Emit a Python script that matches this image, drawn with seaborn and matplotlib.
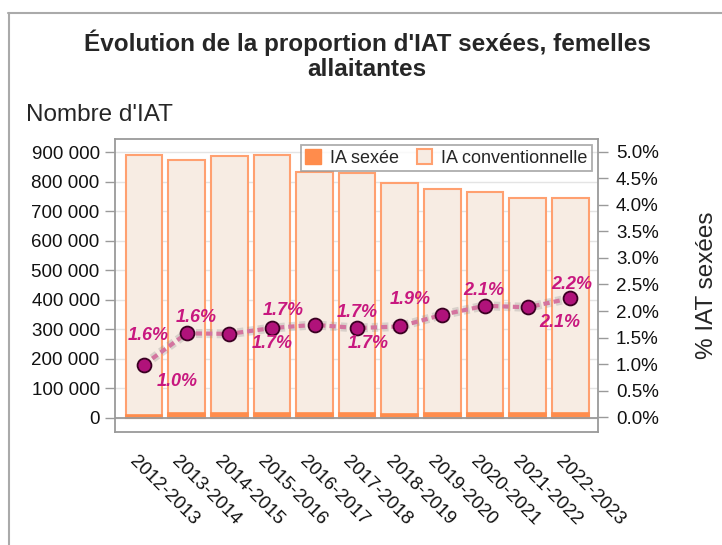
import numpy as np
import matplotlib
matplotlib.use("Agg")
import matplotlib.pyplot as plt
from matplotlib.lines import Line2D
from matplotlib.patches import Patch
from matplotlib.ticker import FuncFormatter
from matplotlib.transforms import ScaledTranslation, blended_transform_factory
import seaborn as sns

# --- data ---
periods = ["2012-2013", "2013-2014", "2014-2015", "2015-2016", "2016-2017",
           "2017-2018", "2018-2019", "2019-2020", "2020-2021", "2021-2022",
           "2022-2023"]
ia_sexee = [8800, 13800, 13900, 15000, 14500, 14000, 13600, 14900, 16100, 15400, 16700]
ia_conventionnelle = [882200, 860200, 873600, 876000, 819500, 817000, 783400,
                      759100, 749900, 728600, 729300]
pct_sexee = [0.99, 1.58, 1.57, 1.68, 1.74, 1.68, 1.71, 1.93, 2.10, 2.07, 2.24]

# label offsets (pixels) relative to each point, as placed in the reference
label_offsets = [(33, -17), (-38, -2), (-33, 16), (0, -15), (-31, 14), (0, 16),
                 (-32, -17), (-32, 15), (-1, 15), (32, -15), (1, 14)]

# --- colours ---
ORANGE = "#ff8c4c"
ORANGE_EDGE = "#ffa070"
BEIGE = "#f7ece3"
MAGENTA = "#c8187f"
AXIS_GRAY = "#9a9a9a"

sns.set_style("white")
plt.rcParams['font.family'] = ['Liberation Sans', 'DejaVu Sans']

fig = plt.figure(figsize=(7.22, 5.45), dpi=100)
ax = fig.add_axes([115 / 722, 1 - 432 / 545, (598 - 115) / 722, (432 - 139) / 545])

totals = np.array(ia_sexee) + np.array(ia_conventionnelle)
x_pos = np.arange(len(periods))

# total bar (conventionnelle look), then sexée segment drawn over its base
sns.barplot(x=x_pos, y=totals, ax=ax, color=BEIGE, edgecolor=ORANGE_EDGE,
            linewidth=1.5, width=0.86, saturation=1, native_scale=True, zorder=2)
sns.barplot(x=x_pos, y=ia_sexee, ax=ax, color=ORANGE, edgecolor=ORANGE,
            linewidth=1.2, width=0.86, saturation=1, native_scale=True, zorder=3)

ax.set_xlim(-0.68, 10.65)
ax.set_ylim(-49000, 945000)
ax.set_yticks(np.arange(0, 900001, 100000))
ax.yaxis.set_major_formatter(FuncFormatter(lambda v, p: f"{int(round(v)):,}".replace(",", " ")))
ax.set_xticks(x_pos)
ax.set_xticklabels([])

# rotated period labels, anchored a little left of each tick
lbl_tr = blended_transform_factory(ax.transData, ax.transAxes) + \
    ScaledTranslation(-12 / 100, -27 / 100, fig.dpi_scale_trans)
for xi, name in zip(x_pos, periods):
    ax.text(xi, 0, name, transform=lbl_tr, rotation=-45, ha="left", va="center",
            rotation_mode="anchor", fontsize=13.5, color="#111111")

ax.grid(axis="y", color="#e4e4e4", linewidth=1, zorder=0)
ax.set_axisbelow(True)
ax.axhline(0, color=AXIS_GRAY, linewidth=1.3, zorder=4)
for s in ax.spines.values():
    s.set_color(AXIS_GRAY)
    s.set_linewidth(1.3)
ax.tick_params(axis="both", which="major", length=7.5, width=1, color=AXIS_GRAY,
               labelsize=13.5, labelcolor="#111111", pad=3.5)
ax.set_xlabel("")
ax.set_ylabel("")

# --- percentage line on secondary axis ---
ax2 = ax.twinx()
ax2.set_ylim(-0.277, 5.239)
ax2.set_yticks(np.arange(0, 5.01, 0.5))
ax2.yaxis.set_major_formatter(FuncFormatter(lambda v, p: f"{v:.1f}%"))
ax2.tick_params(axis="y", length=7.5, width=1, color=AXIS_GRAY, labelsize=13.5,
                labelcolor="#111111", pad=5.5)
for s in ax2.spines.values():
    s.set_visible(False)

sns.lineplot(x=x_pos, y=pct_sexee, ax=ax2, color="#8a8a8a", linewidth=6.5,
             alpha=0.28, linestyle=(0, (0.7, 0.45)), zorder=2)
sns.lineplot(x=x_pos, y=pct_sexee, ax=ax2, color="#d4749f", linewidth=3,
             linestyle=(0, (1.5, 0.98)), zorder=3)
sns.scatterplot(x=x_pos, y=pct_sexee, ax=ax2, s=100, color="#b0127a",
                edgecolor="#3a0022", linewidth=1.3, zorder=4)
ax2.set_xlim(-0.68, 10.65)
ax2.set_ylabel("")

for xi, val, off in zip(x_pos, pct_sexee, label_offsets):
    ax2.annotate(f"{val:.1f}%", (xi, val), xytext=off, textcoords="offset pixels",
                 ha="center", va="center", color=MAGENTA, fontsize=13,
                 fontweight="bold", fontstyle="italic", zorder=5)

# --- legend ---
handles = [Patch(facecolor=ORANGE, edgecolor=ORANGE, label="IA sexée"),
           Patch(facecolor=BEIGE, edgecolor=ORANGE_EDGE, linewidth=1.5,
                 label="IA conventionnelle")]
leg = ax2.legend(handles=handles, loc="upper right", ncol=2, fontsize=13,
                 frameon=True, fancybox=False, borderaxespad=0.33,
                 handlelength=0.85, handleheight=0.85, handletextpad=0.5,
                 columnspacing=1.0, borderpad=0.25)
leg.get_frame().set_edgecolor(AXIS_GRAY)
leg.get_frame().set_linewidth(1.3)

# --- titles and axis captions ---
fig.text(367 / 722, 1 - 43 / 545, "Évolution de la proportion d'IAT sexées, femelles",
         ha="center", va="center", fontsize=17.5, fontweight="bold")
fig.text(367 / 722, 1 - 70 / 545, "allaitantes", ha="center", va="center",
         fontsize=17.5, fontweight="bold")
fig.text(26 / 722, 1 - 115 / 545, "Nombre d'IAT", ha="left", va="center", fontsize=17.5)
fig.text(707 / 722, 1 - 285 / 545, "% IAT sexées", ha="center", va="center",
         rotation=90, fontsize=17.5)

# frame lines of the original export (left and top)
fig.add_artist(Line2D([9 / 722, 9 / 722], [0, 1 - 13 / 545], transform=fig.transFigure,
                      color="#aaaaaa", linewidth=1.5))
fig.add_artist(Line2D([8 / 722, 1], [1 - 13 / 545, 1 - 13 / 545], transform=fig.transFigure,
                      color="#aaaaaa", linewidth=1.5))

fig.savefig("out.png", dpi=100)
